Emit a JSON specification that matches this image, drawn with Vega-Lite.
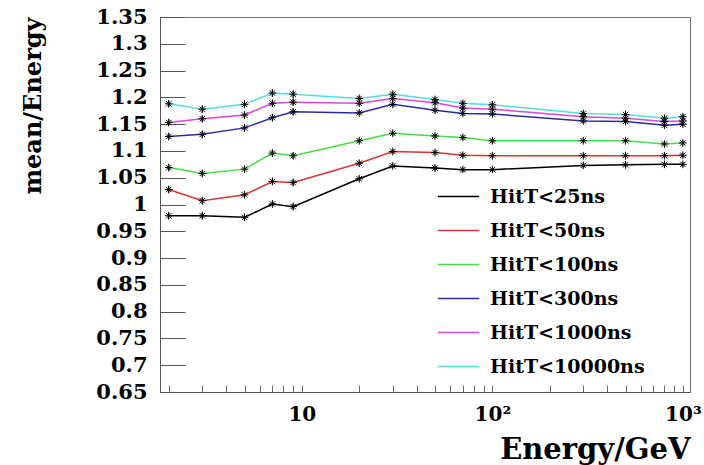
{
  "$schema": "https://vega.github.io/schema/vega-lite/v6.json",
  "width": 530,
  "height": 375,
  "autosize": "none",
  "padding": {"left": 160, "top": 17, "right": 14, "bottom": 73},
  "background": "white",
  "config": {
    "view": {"stroke": "#777777", "strokeWidth": 1},
    "font": "DejaVu Serif"
  },
  "data": {
    "values": [
      {"E": 2, "v": 0.979, "err": 0.006, "s": "HitT<25ns"},
      {"E": 3, "v": 0.979, "err": 0.006, "s": "HitT<25ns"},
      {"E": 5, "v": 0.976, "err": 0.006, "s": "HitT<25ns"},
      {"E": 7, "v": 1.001, "err": 0.006, "s": "HitT<25ns"},
      {"E": 9, "v": 0.996, "err": 0.006, "s": "HitT<25ns"},
      {"E": 20, "v": 1.048, "err": 0.004, "s": "HitT<25ns"},
      {"E": 30, "v": 1.072, "err": 0.004, "s": "HitT<25ns"},
      {"E": 50, "v": 1.068, "err": 0.004, "s": "HitT<25ns"},
      {"E": 70, "v": 1.065, "err": 0.004, "s": "HitT<25ns"},
      {"E": 100, "v": 1.065, "err": 0.004, "s": "HitT<25ns"},
      {"E": 300, "v": 1.073, "err": 0.004, "s": "HitT<25ns"},
      {"E": 500, "v": 1.074, "err": 0.004, "s": "HitT<25ns"},
      {"E": 800, "v": 1.075, "err": 0.004, "s": "HitT<25ns"},
      {"E": 1000, "v": 1.075, "err": 0.004, "s": "HitT<25ns"},
      {"E": 2, "v": 1.028, "err": 0.006, "s": "HitT<50ns"},
      {"E": 3, "v": 1.007, "err": 0.006, "s": "HitT<50ns"},
      {"E": 5, "v": 1.018, "err": 0.006, "s": "HitT<50ns"},
      {"E": 7, "v": 1.043, "err": 0.006, "s": "HitT<50ns"},
      {"E": 9, "v": 1.041, "err": 0.006, "s": "HitT<50ns"},
      {"E": 20, "v": 1.077, "err": 0.004, "s": "HitT<50ns"},
      {"E": 30, "v": 1.099, "err": 0.004, "s": "HitT<50ns"},
      {"E": 50, "v": 1.097, "err": 0.004, "s": "HitT<50ns"},
      {"E": 70, "v": 1.092, "err": 0.004, "s": "HitT<50ns"},
      {"E": 100, "v": 1.091, "err": 0.004, "s": "HitT<50ns"},
      {"E": 300, "v": 1.091, "err": 0.004, "s": "HitT<50ns"},
      {"E": 500, "v": 1.091, "err": 0.004, "s": "HitT<50ns"},
      {"E": 800, "v": 1.091, "err": 0.004, "s": "HitT<50ns"},
      {"E": 1000, "v": 1.092, "err": 0.004, "s": "HitT<50ns"},
      {"E": 2, "v": 1.069, "err": 0.006, "s": "HitT<100ns"},
      {"E": 3, "v": 1.058, "err": 0.006, "s": "HitT<100ns"},
      {"E": 5, "v": 1.066, "err": 0.006, "s": "HitT<100ns"},
      {"E": 7, "v": 1.096, "err": 0.006, "s": "HitT<100ns"},
      {"E": 9, "v": 1.091, "err": 0.006, "s": "HitT<100ns"},
      {"E": 20, "v": 1.119, "err": 0.004, "s": "HitT<100ns"},
      {"E": 30, "v": 1.133, "err": 0.004, "s": "HitT<100ns"},
      {"E": 50, "v": 1.128, "err": 0.004, "s": "HitT<100ns"},
      {"E": 70, "v": 1.125, "err": 0.004, "s": "HitT<100ns"},
      {"E": 100, "v": 1.119, "err": 0.004, "s": "HitT<100ns"},
      {"E": 300, "v": 1.119, "err": 0.004, "s": "HitT<100ns"},
      {"E": 500, "v": 1.119, "err": 0.004, "s": "HitT<100ns"},
      {"E": 800, "v": 1.113, "err": 0.004, "s": "HitT<100ns"},
      {"E": 1000, "v": 1.115, "err": 0.004, "s": "HitT<100ns"},
      {"E": 2, "v": 1.127, "err": 0.006, "s": "HitT<300ns"},
      {"E": 3, "v": 1.131, "err": 0.006, "s": "HitT<300ns"},
      {"E": 5, "v": 1.143, "err": 0.006, "s": "HitT<300ns"},
      {"E": 7, "v": 1.162, "err": 0.006, "s": "HitT<300ns"},
      {"E": 9, "v": 1.173, "err": 0.006, "s": "HitT<300ns"},
      {"E": 20, "v": 1.171, "err": 0.004, "s": "HitT<300ns"},
      {"E": 30, "v": 1.187, "err": 0.004, "s": "HitT<300ns"},
      {"E": 50, "v": 1.176, "err": 0.004, "s": "HitT<300ns"},
      {"E": 70, "v": 1.170, "err": 0.004, "s": "HitT<300ns"},
      {"E": 100, "v": 1.169, "err": 0.004, "s": "HitT<300ns"},
      {"E": 300, "v": 1.156, "err": 0.004, "s": "HitT<300ns"},
      {"E": 500, "v": 1.155, "err": 0.004, "s": "HitT<300ns"},
      {"E": 800, "v": 1.148, "err": 0.004, "s": "HitT<300ns"},
      {"E": 1000, "v": 1.150, "err": 0.004, "s": "HitT<300ns"},
      {"E": 2, "v": 1.153, "err": 0.006, "s": "HitT<1000ns"},
      {"E": 3, "v": 1.160, "err": 0.006, "s": "HitT<1000ns"},
      {"E": 5, "v": 1.167, "err": 0.006, "s": "HitT<1000ns"},
      {"E": 7, "v": 1.189, "err": 0.006, "s": "HitT<1000ns"},
      {"E": 9, "v": 1.191, "err": 0.006, "s": "HitT<1000ns"},
      {"E": 20, "v": 1.189, "err": 0.004, "s": "HitT<1000ns"},
      {"E": 30, "v": 1.198, "err": 0.004, "s": "HitT<1000ns"},
      {"E": 50, "v": 1.190, "err": 0.004, "s": "HitT<1000ns"},
      {"E": 70, "v": 1.180, "err": 0.004, "s": "HitT<1000ns"},
      {"E": 100, "v": 1.178, "err": 0.004, "s": "HitT<1000ns"},
      {"E": 300, "v": 1.164, "err": 0.004, "s": "HitT<1000ns"},
      {"E": 500, "v": 1.161, "err": 0.004, "s": "HitT<1000ns"},
      {"E": 800, "v": 1.155, "err": 0.004, "s": "HitT<1000ns"},
      {"E": 1000, "v": 1.156, "err": 0.004, "s": "HitT<1000ns"},
      {"E": 2, "v": 1.188, "err": 0.006, "s": "HitT<10000ns"},
      {"E": 3, "v": 1.178, "err": 0.006, "s": "HitT<10000ns"},
      {"E": 5, "v": 1.187, "err": 0.006, "s": "HitT<10000ns"},
      {"E": 7, "v": 1.208, "err": 0.006, "s": "HitT<10000ns"},
      {"E": 9, "v": 1.206, "err": 0.006, "s": "HitT<10000ns"},
      {"E": 20, "v": 1.198, "err": 0.004, "s": "HitT<10000ns"},
      {"E": 30, "v": 1.206, "err": 0.004, "s": "HitT<10000ns"},
      {"E": 50, "v": 1.196, "err": 0.004, "s": "HitT<10000ns"},
      {"E": 70, "v": 1.189, "err": 0.004, "s": "HitT<10000ns"},
      {"E": 100, "v": 1.186, "err": 0.004, "s": "HitT<10000ns"},
      {"E": 300, "v": 1.170, "err": 0.004, "s": "HitT<10000ns"},
      {"E": 500, "v": 1.168, "err": 0.004, "s": "HitT<10000ns"},
      {"E": 800, "v": 1.161, "err": 0.004, "s": "HitT<10000ns"},
      {"E": 1000, "v": 1.164, "err": 0.004, "s": "HitT<10000ns"}
    ]
  },
  "encoding": {
    "x": {
      "field": "E",
      "type": "quantitative",
      "scale": {"type": "log", "domain": [1.8, 1090], "nice": false},
      "axis": {
        "values": [2, 3, 4, 5, 6, 7, 8, 9, 10, 20, 30, 40, 50, 60, 70, 80, 90, 100, 200, 300, 400, 500, 600, 700, 800, 900, 1000],
        "labelExpr": "datum.value == 10 ? '10' : datum.value == 100 ? '10²' : datum.value == 1000 ? '10³' : ''",
        "labelFont": "DejaVu Serif",
        "labelFontWeight": "bold",
        "labelFontSize": 20,
        "labelColor": "black",
        "labelPadding": 19,
        "labelOverlap": false,
        "labelFlush": false,
        "tickSize": -7,
        "tickColor": "#666666",
        "domainColor": "#555555",
        "grid": false,
        "title": "Energy/GeV",
        "titleFont": "DejaVu Serif",
        "titleFontWeight": "bold",
        "titleFontSize": 29,
        "titleColor": "black",
        "titleAnchor": "end",
        "titlePadding": 11
      }
    },
    "y": {
      "field": "v",
      "type": "quantitative",
      "scale": {"domain": [0.65, 1.35], "nice": false, "zero": false},
      "axis": {
        "values": [0.65, 0.7, 0.75, 0.8, 0.85, 0.9, 0.95, 1, 1.05, 1.1, 1.15, 1.2, 1.25, 1.3, 1.35],
        "format": "~g",
        "labelFont": "DejaVu Serif",
        "labelFontWeight": "bold",
        "labelFontSize": 21,
        "labelColor": "black",
        "labelPadding": 38,
        "labelOverlap": false,
        "labelFlush": false,
        "tickSize": -25,
        "tickColor": "#555555",
        "domainColor": "#555555",
        "grid": false,
        "title": "mean/Energy",
        "titleFont": "DejaVu Serif",
        "titleFontWeight": "bold",
        "titleFontSize": 24,
        "titleColor": "black",
        "titleAnchor": "end",
        "titleBaseline": "bottom",
        "titleX": -115
      }
    }
  },
  "layer": [
    {
      "mark": {"type": "line", "strokeWidth": 1.5},
      "encoding": {
        "color": {
          "field": "s",
          "type": "nominal",
          "scale": {
            "domain": ["HitT<25ns", "HitT<50ns", "HitT<100ns", "HitT<300ns", "HitT<1000ns", "HitT<10000ns"],
            "range": ["#000000", "#dd3333", "#44dd44", "#2a2aa8", "#dd44dd", "#55dddd"]
          },
          "legend": {
            "title": null,
            "orient": "none",
            "legendX": 275,
            "legendY": 156,
            "symbolType": "stroke",
            "symbolSize": 1700,
            "symbolStrokeWidth": 1.5,
            "labelFont": "DejaVu Serif",
            "labelFontWeight": "bold",
            "labelFontSize": 19,
            "labelColor": "black",
            "labelOffset": 10,
            "labelLimit": 400,
            "rowPadding": 2,
            "fillColor": "white",
            "padding": 2
          }
        }
      }
    },
    {
      "mark": {"type": "errorbar", "color": "black", "thickness": 1},
      "encoding": {
        "yError": {"field": "err"},
        "detail": {"field": "s"}
      }
    },
    {
      "mark": {
        "type": "point",
        "shape": "M-1,0L1,0M0,-1L0,1M-0.7,-0.7L0.7,0.7M-0.7,0.7L0.7,-0.7",
        "size": 60,
        "color": "black",
        "strokeWidth": 1,
        "opacity": 1,
        "filled": false
      },
      "encoding": {}
    }
  ]
}
